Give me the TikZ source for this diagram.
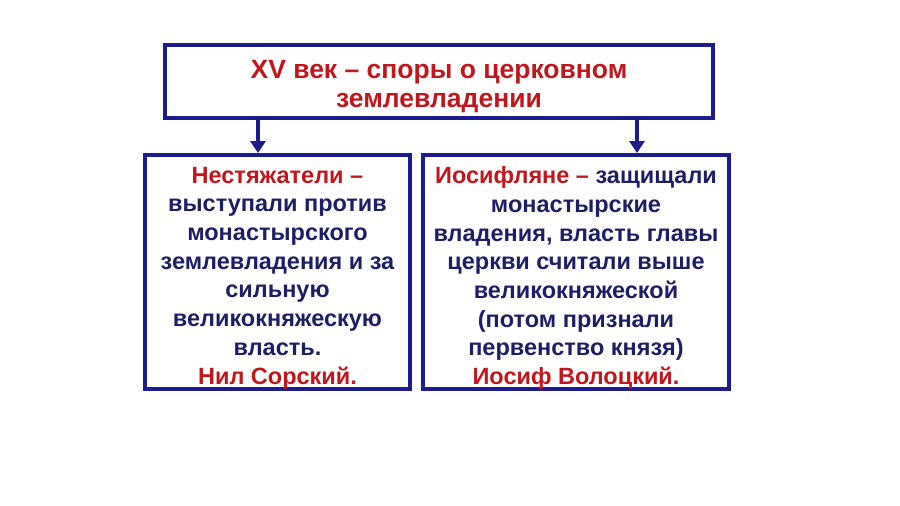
\documentclass[tikz,border=0pt]{standalone}
\usepackage{fontspec}
\setmainfont{Liberation Sans}
\usetikzlibrary{arrows.meta}
\definecolor{navy}{RGB}{28,28,140}
\definecolor{navytext}{RGB}{30,30,100}
\definecolor{redtext}{RGB}{192,22,30}
\tikzset{
  box/.style={draw=navy, line width=4pt, fill=white, inner sep=0pt},
  boxtext/.style={align=center, inner sep=0pt, font=\bfseries\fontsize{23.5}{28.7}\selectfont, text=navytext},
  arr/.style={draw=navy, line width=3.5pt, -{Triangle[width=15pt,length=12pt]}}
}
\begin{document}
\begin{tikzpicture}[x=1pt,y=1pt]
\useasboundingbox[fill=white] (0,0) rectangle (900,-506);
\node[box, minimum width=548pt, minimum height=73pt] (top) at (439,-81) {};
\node[boxtext, font=\bfseries\fontsize{26.5}{29}\selectfont, text=redtext, yshift=-6pt] (toptext) at (top.center)
  {XV век – споры о церковном\\землевладении};
\node[box, minimum width=265pt, minimum height=234pt] (left) at (277.5,-272) {};
\node[boxtext, yshift=-6pt] (lefttext) at (left.center)
  {\textcolor{redtext}{Нестяжатели –}\\выступали против\\монастырского\\землевладения и за\\сильную\\великокняжескую\\власть.\\\textcolor{redtext}{Нил Сорский.}};
\node[box, minimum width=306pt, minimum height=234pt] (right) at (576,-272) {};
\node[boxtext, yshift=-6pt] (righttext) at (right.center)
  {\textcolor{redtext}{Иосифляне –} защищали\\монастырские\\владения, власть главы\\церкви считали выше\\великокняжеской\\(потом признали\\первенство князя)\\\textcolor{redtext}{Иосиф Волоцкий.}};
\coordinate (a1) at (258,0);
\coordinate (a2) at (637,0);
\draw[arr] (top.south -| a1) -- (left.north -| a1);
\draw[arr] (top.south -| a2) -- (right.north -| a2);
\end{tikzpicture}
\end{document}
